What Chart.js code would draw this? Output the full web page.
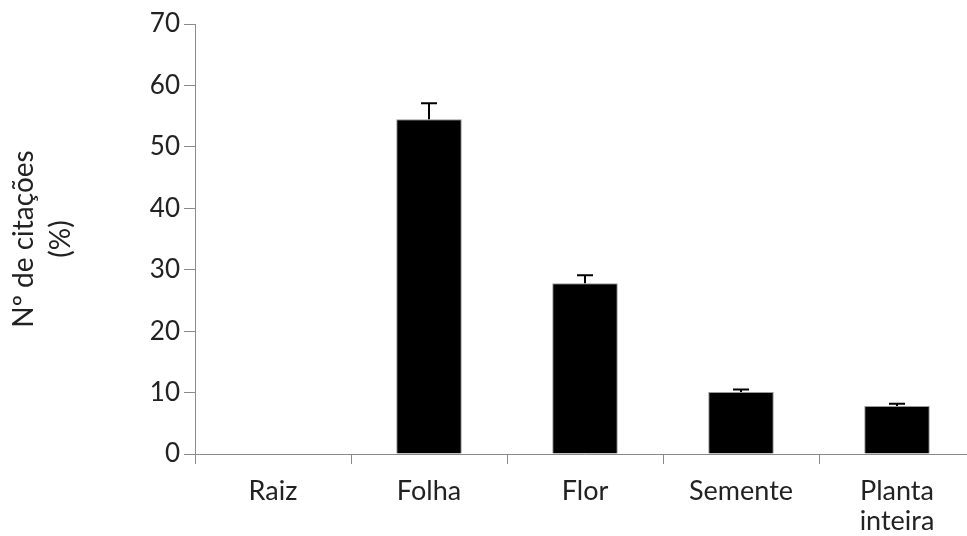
<!DOCTYPE html>
<html>
<head>
<meta charset="utf-8">
<script src="https://cdn.jsdelivr.net/npm/chart.js@4.4.1/dist/chart.umd.min.js"></script>
<style>
  html, body { margin: 0; padding: 0; background: #fff; overflow: hidden; }
  #wrap { width: 980px; height: 536px; }
</style>
</head>
<body>
<div id="wrap"><canvas id="c" width="980" height="536"></canvas></div>
<script>
// Parts of the plant cited, share of citations (%) and standard error
const categories = ['Raiz', 'Folha', 'Flor', 'Semente', ['Planta', 'inteira']];
const citations = [0, 54.5, 27.8, 10.1, 7.8];
const errors = [0, 2.6, 1.3, 0.4, 0.4];
const yTicks = [0, 10, 20, 30, 40, 50, 60, 70];

const FONT = 'Lato, "DejaVu Sans", sans-serif';
const AXIS_GREY = '#8a8a8a';

// Upper error bars drawn from each bar's value through the y scale
const errorBars = {
  id: 'errorBars',
  afterDatasetsDraw(chart) {
    const ctx = chart.ctx;
    const y = chart.scales.y;
    const meta = chart.getDatasetMeta(0);
    ctx.save();
    ctx.strokeStyle = '#000';
    ctx.lineWidth = 2;
    meta.data.forEach((bar, i) => {
      if (!errors[i]) return;
      const x = bar.x;
      const y0 = y.getPixelForValue(citations[i]);
      const y1 = y.getPixelForValue(citations[i] + errors[i]);
      ctx.beginPath();
      ctx.moveTo(x, y0);
      ctx.lineTo(x, y1);
      ctx.moveTo(x - 8, y1);
      ctx.lineTo(x + 8, y1);
      ctx.stroke();
    });
    ctx.restore();
  }
};

new Chart(document.getElementById('c'), {
  type: 'bar',
  data: {
    labels: categories,
    datasets: [{
      data: citations,
      backgroundColor: '#000',
      borderColor: '#999',
      borderWidth: 1,
      barPercentage: 0.42,
      categoryPercentage: 1
    }]
  },
  options: {
    responsive: false,
    animation: false,
    layout: { padding: { top: 24, right: 5, left: 0, bottom: 0 } },
    plugins: { legend: { display: false }, tooltip: { enabled: false } },
    scales: {
      x: {
        offset: true,
        grid: {
          offset: true,
          drawOnChartArea: false,
          color: AXIS_GREY,
          tickLength: 10,
          lineWidth: 1
        },
        border: { color: AXIS_GREY, width: 1 },
        ticks: {
          color: '#222',
          font: { family: FONT, size: 27, lineHeight: 1.12 },
          padding: 12,
          maxRotation: 0
        },
        afterFit(scale) { scale.height = 82; }
      },
      y: {
        min: 0,
        max: 70,
        afterBuildTicks(scale) { scale.ticks = yTicks.map(v => ({ value: v })); },
        grid: {
          drawOnChartArea: false,
          color: AXIS_GREY,
          tickLength: 11,
          lineWidth: 1
        },
        border: { color: AXIS_GREY, width: 1 },
        ticks: {
          color: '#222',
          font: { family: FONT, size: 26 },
          padding: 4
        },
        title: {
          display: true,
          text: ['Nº de citações', '(%)'],
          color: '#222',
          font: { family: FONT, size: 28, lineHeight: 1.3 },
          padding: { top: 6, bottom: 0 }
        },
        afterFit(scale) { scale.width = 195; }
      }
    }
  },
  plugins: [errorBars]
});
</script>
</body>
</html>
